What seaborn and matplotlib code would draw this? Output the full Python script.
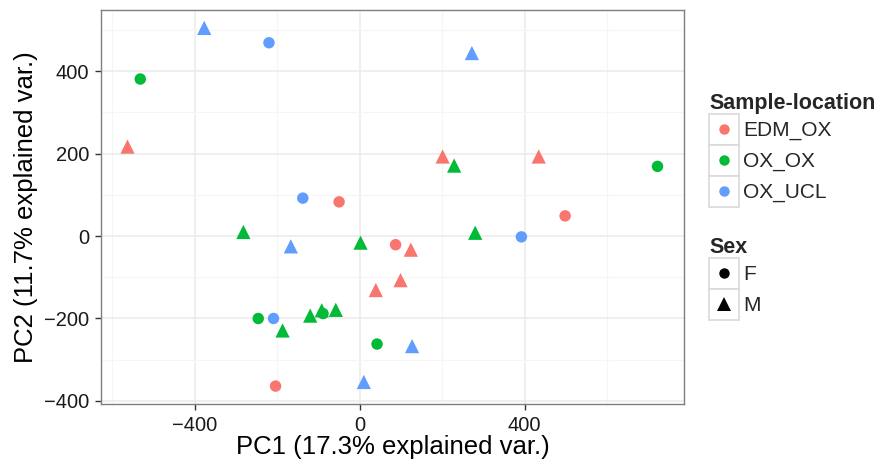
import numpy as np
import pandas as pd
import seaborn as sns
import matplotlib
matplotlib.use("Agg")
import matplotlib.pyplot as plt
from matplotlib.legend_handler import HandlerBase
from matplotlib.patches import Rectangle
from matplotlib.lines import Line2D

# ---- data ----
locations = ["EDM_OX", "OX_OX", "OX_UCL"]
sexes = ["F", "M"]
palette_colors = ["#F8766D", "#00BA38", "#619CFF"]

edm_pc1 = [-563, -50, 201, 434, 498, 39, -204, 87, 124, 99]
edm_pc2 = [217, 83, 193, 193, 49, -131, -364, -21, -33, -107]
edm_sex = ["M", "F", "M", "M", "F", "M", "F", "F", "M", "M"]

oxox_pc1 = [-532, 229, 722, -282, 2, -246, -187, -120, -92, -89, -58, 42, 280]
oxox_pc2 = [381, 171, 169, 10, -16, -200, -229, -193, -180, -188, -179, -262, 8]
oxox_sex = ["F", "M", "F", "M", "M", "F", "M", "M", "M", "F", "M", "F", "M"]

ucl_pc1 = [-377, -220, -138, 272, -167, -209, 10, 127, 392]
ucl_pc2 = [505, 469, 92, 444, -25, -200, -354, -267, -2]
ucl_sex = ["M", "F", "F", "M", "M", "F", "M", "M", "F"]

x_ticks = [-400, 0, 400]
y_ticks = [-400, -200, 0, 200, 400]
x_label = "PC1 (17.3% explained var.)"
y_label = "PC2 (11.7% explained var.)"

df = pd.concat([
    pd.DataFrame({"PC1": edm_pc1, "PC2": edm_pc2, "Sex": edm_sex, "loc": "EDM_OX"}),
    pd.DataFrame({"PC1": oxox_pc1, "PC2": oxox_pc2, "Sex": oxox_sex, "loc": "OX_OX"}),
    pd.DataFrame({"PC1": ucl_pc1, "PC2": ucl_pc2, "Sex": ucl_sex, "loc": "OX_UCL"}),
], ignore_index=True)

sns.set_theme(style="white")
plt.rcParams["font.family"] = ["Liberation Sans", "DejaVu Sans"]

fig = plt.figure(figsize=(8.8, 4.67), dpi=100)
ax = fig.add_axes([101 / 880, 1 - 404 / 467, 583 / 880, 394 / 467])

pal = dict(zip(locations, palette_colors))
sns.scatterplot(data=df[df.Sex == "F"], x="PC1", y="PC2", hue="loc", palette=pal,
                marker="o", s=68, linewidth=0, legend=False, ax=ax, zorder=3)
sns.scatterplot(data=df[df.Sex == "M"], x="PC1", y="PC2", hue="loc", palette=pal,
                marker="^", s=105, linewidth=0, legend=False, ax=ax, zorder=3)

# limits with ggplot-like 5% expansion
xr = df.PC1.max() - df.PC1.min()
yr = df.PC2.max() - df.PC2.min()
ax.set_xlim(df.PC1.min() - 0.05 * xr, df.PC1.max() + 0.05 * xr)
ax.set_ylim(df.PC2.min() - 0.05 * yr, df.PC2.max() + 0.05 * yr)

ax.set_xticks(x_ticks)
ax.set_yticks(y_ticks)
ax.set_xticklabels([str(v).replace("-", "\u2212") for v in x_ticks])
ax.set_yticklabels([str(v).replace("-", "\u2212") for v in y_ticks])
ax.set_xticks([-600, -200, 200, 600], minor=True)
ax.set_yticks([-300, -100, 100, 300, 500], minor=True)
ax.grid(True, which="major", color="#EBEBEB", lw=1.1, zorder=0)
ax.grid(True, which="minor", color="#F5F5F5", lw=0.8, zorder=0)
ax.set_axisbelow(True)
ax.tick_params(axis="both", which="major", length=4.5, width=1, color="#333333",
               labelsize=14.5, labelcolor="#1a1a1a", pad=4, bottom=True, left=True)
ax.tick_params(axis="both", which="minor", length=0)
for sp in ax.spines.values():
    sp.set_color("#7F7F7F")
    sp.set_linewidth(1.0)

ax.set_xlabel(x_label, fontsize=18.5, color="black", labelpad=0)
ax.set_ylabel(y_label, fontsize=18.5, color="black", labelpad=4)


class BoxHandler(HandlerBase):
    def create_artists(self, legend, orig_handle, xdescent, ydescent, width, height,
                       fontsize, trans):
        rect = Rectangle((-xdescent, -ydescent), width, height, fc="white",
                         ec="#D9D9D9", lw=1.2, transform=trans)
        m = Line2D([width / 2 - xdescent], [height / 2 - ydescent],
                   marker=orig_handle.get_marker(), color=orig_handle.get_color(),
                   markersize=orig_handle.get_markersize(), ls="", mew=0,
                   transform=trans)
        return [rect, m]


loc_handles = [Line2D([], [], marker="o", color=c, ls="", markersize=7.5) for c in palette_colors]
sex_handles = [Line2D([], [], marker="o", color="black", ls="", markersize=7.5),
               Line2D([], [], marker="^", color="black", ls="", markersize=9.5)]

common = dict(frameon=False, handler_map={Line2D: BoxHandler()}, handlelength=1.42,
              handleheight=1.91, labelspacing=0.0, handletextpad=0.2, borderpad=0,
              borderaxespad=0, fontsize=15, title_fontsize=15.5, alignment="left")
leg1 = fig.legend(loc_handles, locations, title="Sample-location",
                  bbox_to_anchor=(709 / 880, 1 - 93 / 467), loc="upper left", **common)
leg1.get_title().set_fontweight("bold")
leg2 = fig.legend(sex_handles, sexes, title="Sex",
                  bbox_to_anchor=(709 / 880, 1 - 237 / 467), loc="upper left", **common)
leg2.get_title().set_fontweight("bold")

fig.savefig("out.png", dpi=100)
